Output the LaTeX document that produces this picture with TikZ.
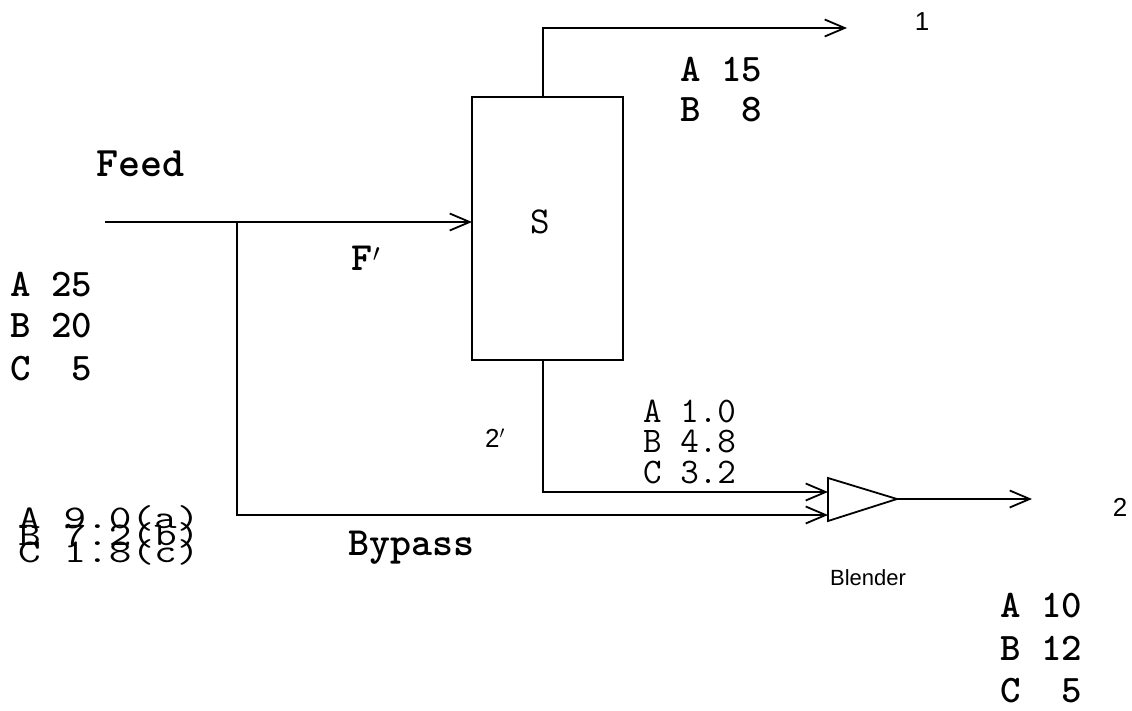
\documentclass[tikz,border=0pt]{standalone}
\usepackage{fontspec}
\setsansfont{Liberation Sans}
\usetikzlibrary{arrows.meta}
\tikzset{
  flow/.style={line width=1.8pt, -{Straight Barb[length=20pt,width=17pt,line width=1.8pt]}},
  plain/.style={line width=1.8pt},
  bold/.style={font=\ttfamily\bfseries\fontsize{39}{39}\selectfont, inner sep=0pt, anchor=base west},
  thin/.style={font=\ttfamily\fontsize{36}{36}\selectfont, inner sep=0pt, anchor=base west},
  squash/.style={font=\ttfamily\fontsize{44}{44}\selectfont, inner sep=0pt, anchor=base west, yscale=0.75},
  sans/.style={font=\sffamily\fontsize{26}{26}\selectfont, inner sep=0pt},
  unit/.style={draw, line width=1.8pt, rectangle, inner sep=0pt}
}
\begin{document}
\begin{tikzpicture}[x=1pt,y=-1pt]
\useasboundingbox (0,0) rectangle (1132,711);
% separator
\node[unit, minimum width=151pt, minimum height=263pt] (S) at (547.5,228.5) {};
\node[font=\ttfamily\fontsize{38}{38}\selectfont, inner sep=0pt] (Slbl) at (540,222) {S};
% blender
\coordinate (bl1) at (828,478);
\coordinate (bl2) at (828,521);
\coordinate (btip) at (897,499);
\draw[plain, line join=miter] (bl1) -- (bl2) -- (btip) -- cycle;
\coordinate (bin1) at (828,492);
\coordinate (bin2) at (828,515);
% coordinates
\coordinate (feedin) at (105,222);
\coordinate (split) at (237,222);
\coordinate (Sin) at (472,222);
\coordinate (Stop) at (543,97);
\coordinate (Stopc) at (543,28);
\coordinate (out1) at (847,28);
\coordinate (Sbot) at (543,360);
\coordinate (Sbotc) at (543,492);
\coordinate (bypc) at (237,515);
\coordinate (out2) at (1032,499);
% streams
\draw[flow] (feedin) -- (Sin);
\draw[flow] (Stop) -- (Stopc) -- (out1);
\draw[flow] (Sbot) -- (Sbotc) -- (bin1);
\draw[flow] (split) -- (bypc) -- (bin2);
\draw[flow] (btip) -- (out2);
% labels
\node[font=\ttfamily\bfseries\fontsize{42}{42}\selectfont, inner sep=0pt, anchor=base west] (feed) at (96,177) {Feed};
\node[font=\ttfamily\bfseries\fontsize{40}{40}\selectfont, inner sep=0pt] (fp) at (366,258) {F$'$};
\node[sans] (n1) at (922,22) {1};
\node[sans] (n2) at (1120,507) {2};
\node[sans] (n2p) at (495,438) {2$'$};
\node[sans, font=\sffamily\fontsize{22}{22}\selectfont] (blend) at (868,578) {Blender};
\node[font=\ttfamily\bfseries\fontsize{40}{40}\selectfont, inner sep=0pt] (byp) at (411,548) {Bypass};
% feed composition
\node[bold] (fa) at (10,297) {A 25};
\node[bold] (fb) at (10,337) {B 20};
\node[bold] (fc) at (10,380) {C\ \ 5};
% stream 1
\node[bold] (sa) at (680,82) {A 15};
\node[bold] (sb) at (680,122) {B\ \ 8};
% stream 2'
\node[thin] (pa) at (643,422) {A 1.0};
\node[thin] (pb) at (643,452) {B 4.8};
\node[thin] (pc) at (643,483) {C 3.2};
% bypass composition
\node[squash] (ba) at (18,528) {A 9.0(a)};
\node[squash] (bb) at (18,545) {B 7.2(b)};
\node[squash] (bc) at (18,562) {C 1.8(c)};
% product 2
\node[bold] (ta) at (1000,617) {A 10};
\node[bold] (tb) at (1000,660) {B 12};
\node[bold] (tc) at (1000,702) {C\ \ 5};
\end{tikzpicture}
\end{document}
